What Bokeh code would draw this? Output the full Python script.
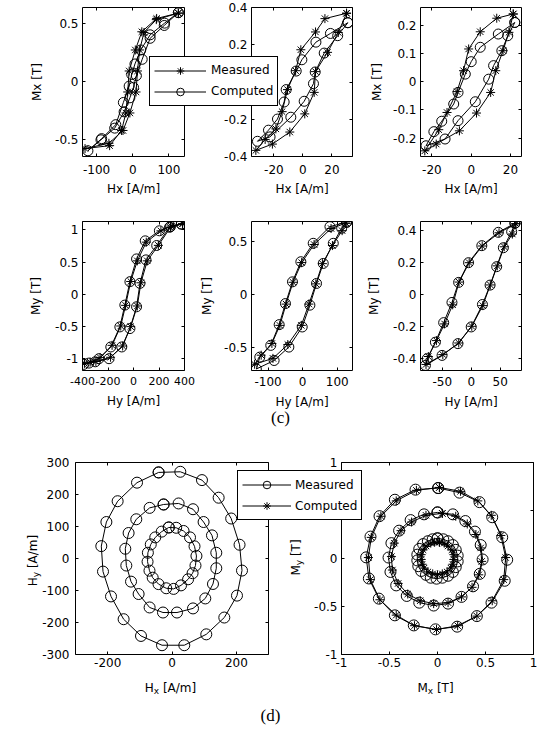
import math
import json
from bokeh.plotting import figure
from bokeh.models import (Range1d, FixedTicker, CustomJSTickFormatter, LinearAxis,
                          Legend, LegendItem, Label)
from bokeh.layouts import row, column
from bokeh.embed import file_html
from bokeh.resources import INLINE

# ---------------- data ----------------
# (c) top row: Mx [T] versus Hx [A/m]
p1_meas_h = [126, 66, 25, 7, -10, -14, -19, -31, -64, -132, -66, -27, -8, 9, 13, 19, 31, 65, 126]
p1_meas_m = [0.586, 0.54, 0.426, 0.27, 0.09, -0.09, -0.27, -0.42, -0.55, -0.575, -0.53, -0.42,
             -0.27, -0.09, 0.09, 0.27, 0.42, 0.53, 0.586]
p1_comp_h = [126, 88, 48, 22, 6, -3, -10, -26, -47, -86, -124, -88, -50, -24, -8, 2, 10, 26, 48, 87, 126]
p1_comp_m = [0.59, 0.50, 0.40, 0.27, 0.15, 0.06, -0.04, -0.18, -0.37, -0.49, -0.594, -0.50, -0.40,
             -0.26, -0.14, -0.05, 0.05, 0.19, 0.37, 0.48, 0.59]

p2_meas_h = [30.1, 15.2, 8.7, -1.4, -5.0, -10.6, -14.3, -18.6, -26.0, -32.4, -21.0, -9.0, 1.3, 7.8,
             8.7, 17.0, 24.4, 30.1]
p2_meas_m = [0.371, 0.342, 0.27, 0.174, 0.061, -0.041, -0.16, -0.253, -0.31, -0.369, -0.335, -0.27,
             -0.172, -0.056, 0.056, 0.16, 0.267, 0.371]
p2_comp_h = [31.0, 19.0, 9.0, -0.7, -4.6, -11.5, -12.9, -17.5, -23.7, -31.3, -22.6, -8.3, 0.9, 7.3,
             8.5, 14.7, 24.0, 31.0]
p2_comp_m = [0.32, 0.262, 0.215, 0.12, 0.059, -0.041, -0.108, -0.2, -0.26, -0.32, -0.296, -0.19,
             -0.104, -0.009, 0.054, 0.156, 0.25, 0.32]

p3_meas_h = [21.4, 13.0, 4.6, -1.3, -3.9, -7.2, -12.3, -16.5, -23.6, -17.8, -6.0, 2.7, 9.9, 12.5,
             16.2, 19.2, 21.4]
p3_meas_m = [0.24, 0.225, 0.177, 0.116, 0.039, -0.035, -0.109, -0.17, -0.245, -0.221, -0.174, -0.111,
             -0.038, 0.039, 0.11, 0.175, 0.24]
p3_comp_h = [22.2, 13.8, 4.6, 0.0, -3.0, -6.7, -8.9, -15.0, -19.0, -23.0, -13.3, -6.7, 2.1, 8.9,
             11.4, 15.6, 18.6, 22.2]
p3_comp_m = [0.21, 0.169, 0.122, 0.071, 0.027, -0.038, -0.079, -0.14, -0.177, -0.227, -0.203, -0.138,
             -0.071, 0.009, 0.057, 0.11, 0.163, 0.21]

# (c) bottom row: My [T] versus Hy [A/m]
p4_meas_h = [385, 295, 215, 100, 30, -22, -62, -100, -168, -262, -340, -385, -295, -180, -85, -22,
             30, 58, 108, 195, 290, 385]
p4_meas_m = [1.095, 1.06, 0.985, 0.81, 0.52, 0.2, -0.17, -0.49, -0.79, -0.98, -1.05, -1.07, -1.04,
             -0.975, -0.8, -0.5, -0.18, 0.18, 0.52, 0.76, 1.04, 1.095]
p4_comp_h = [375, 290, 203, 92, 24, -28, -68, -107, -178, -271, -350, -390, -300, -192, -92, -28,
             24, 51, 98, 182, 282, 375]
p4_comp_m = [1.09, 1.05, 0.986, 0.83, 0.55, 0.197, -0.166, -0.504, -0.815, -0.997, -1.065, -1.085,
             -1.045, -0.997, -0.815, -0.53, -0.192, 0.171, 0.535, 0.758, 1.04, 1.09]

p5_meas_h = [125, 82, 33, -3, -28, -48, -66, -89, -120, -139, -86, -43, -4, 18, 38, 57, 86, 114, 125]
p5_meas_m = [0.67, 0.62, 0.47, 0.30, 0.115, -0.09, -0.29, -0.46, -0.57, -0.655, -0.6, -0.47, -0.29,
             -0.09, 0.1, 0.29, 0.46, 0.6, 0.67]
p5_comp_h = [127, 78.8, 30.4, -5.3, -29.5, -49.8, -68, -92.3, -124, -134, -82.6, -40, -1.4, 20.8,
             40, 59.4, 88.4, 112.6, 127]
p5_comp_m = [0.679, 0.638, 0.481, 0.308, 0.119, -0.085, -0.283, -0.478, -0.588, -0.70, -0.62, -0.494,
             -0.305, -0.1, 0.104, 0.292, 0.481, 0.623, 0.679]

p6_meas_h = [77, 48, 19, -3.5, -21, -32, -46, -60, -74, -78, -49, -21.5, 1.0, 20, 33, 45, 57, 71, 77]
p6_meas_m = [0.445, 0.388, 0.305, 0.2, 0.078, -0.065, -0.185, -0.29, -0.39, -0.44, -0.378, -0.305,
             -0.2, -0.07, 0.06, 0.18, 0.3, 0.38, 0.445]
p6_comp_h = [75.5, 46.8, 18.3, -4.6, -21.7, -33.2, -47.5, -61.8, -76.0, -79.0, -50.3, -22.9, 0.0,
             19.4, 32.6, 44.0, 55.5, 69.8, 75.5]
p6_comp_m = [0.448, 0.391, 0.307, 0.2, 0.076, -0.05, -0.177, -0.3, -0.404, -0.446, -0.383, -0.309,
             -0.204, -0.063, 0.059, 0.175, 0.294, 0.395, 0.448]

# (d) left: Hy versus Hx (measured), three loci
p7_outer_hx = [-41.6, 25.8, 93.2, 145, 184, 210, 217.6, 202, 162.6, 106.6, 38.2, -31, -96.4, -150.4,
               -189.6, -214.5, -219.8, -204, -169, -108.8, -41.6]
p7_outer_hy = [269, 271, 245, 190, 125, 43, -37.7, -116, -184.5, -237, -271, -271, -242, -189.7,
               -118.5, -40.9, 38.7, 114, 179, 237, 269]
p7_mid_hx = [-26.1, 20.5, 65.3, 98.2, 124.3, 137.7, 137.7, 127.4, 103.5, 65.3, 15.5, -28, -69.6,
             -103.8, -127.4, -142, -145.2, -134.9, -111, -69.6, -26.1]
p7_mid_hy = [168.8, 172, 154, 114, 72.3, 17.9, -30.5, -79.6, -124.8, -156, -168.8, -168.8, -153,
             -111, -72.3, -22, 30.5, 79.6, 122.6, 158.2, 168.8]
p7_in_hx = [-10, 13, 36, 56, 70, 76, 73, 64, 50, 28, 5, -18, -42, -60, -70, -76, -75, -66, -52, -32, -10]
p7_in_hy = [97, 96, 86, 66, 38, 8, -22, -46, -65, -84, -95, -93, -80, -60, -38, -10, 18, 44, 66, 84, 97]

# (d) right: My versus Mx, measured (circles) and computed (stars)
p8_meas_outer_x = [0.007, 0.229, 0.4375, 0.57, 0.674, 0.726, 0.70, 0.5625, 0.41, 0.205, -0.021, -0.247,
                   -0.444, -0.611, -0.715, -0.743, -0.698, -0.604, -0.444, -0.229, 0.007]
p8_meas_outer_y = [0.734, 0.686, 0.587, 0.43, 0.221, -0.013, -0.232, -0.46, -0.60, -0.71, -0.738,
                   -0.697, -0.592, -0.418, -0.208, 0.012, 0.228, 0.441, 0.612, 0.717, 0.734]
p8_comp_outer_x = [0.02, 0.24, 0.42, 0.56, 0.66, 0.71, 0.69, 0.57, 0.41, 0.21, -0.01, -0.24, -0.43,
                   -0.60, -0.70, -0.72, -0.69, -0.59, -0.43, -0.22, 0.02]
p8_comp_outer_y = [0.74, 0.70, 0.60, 0.45, 0.24, 0.01, -0.22, -0.44, -0.60, -0.70, -0.74, -0.70, -0.59,
                   -0.43, -0.22, 0.01, 0.22, 0.44, 0.60, 0.71, 0.74]
p8_meas_mid_x = [0.00, 0.16, 0.29, 0.39, 0.45, 0.47, 0.44, 0.37, 0.25, 0.11, -0.04, -0.19, -0.32, -0.43,
                 -0.49, -0.51, -0.48, -0.40, -0.28, -0.14, 0.00]
p8_meas_mid_y = [0.48, 0.46, 0.39, 0.28, 0.14, -0.01, -0.16, -0.29, -0.40, -0.47, -0.49, -0.46, -0.39,
                 -0.28, -0.14, 0.01, 0.16, 0.29, 0.40, 0.46, 0.48]
p8_comp_mid_x = [0.05, 0.19, 0.31, 0.40, 0.45, 0.46, 0.43, 0.36, 0.25, 0.11, -0.04, -0.18, -0.31, -0.41,
                 -0.47, -0.48, -0.45, -0.38, -0.27, -0.12, 0.05]
p8_comp_mid_y = [0.47, 0.44, 0.36, 0.25, 0.11, -0.03, -0.17, -0.30, -0.40, -0.46, -0.47, -0.44, -0.37,
                 -0.26, -0.12, 0.02, 0.16, 0.29, 0.38, 0.45, 0.47]
p8_meas_in_x = [0.00, 0.06, 0.11, 0.16, 0.19, 0.21, 0.21, 0.19, 0.16, 0.11, 0.05, -0.01, -0.07, -0.12,
                -0.17, -0.20, -0.21, -0.21, -0.19, -0.15, -0.10, -0.05, 0.00]
p8_meas_in_y = [0.21, 0.20, 0.18, 0.14, 0.09, 0.03, -0.03, -0.09, -0.14, -0.18, -0.20, -0.21, -0.20,
                -0.17, -0.13, -0.08, -0.02, 0.04, 0.10, 0.15, 0.18, 0.20, 0.21]
p8_comp_in_x = [0.02, 0.07, 0.11, 0.15, 0.17, 0.17, 0.16, 0.14, 0.10, 0.05, 0.00, -0.05, -0.10, -0.14,
                -0.16, -0.17, -0.17, -0.15, -0.12, -0.07, -0.03, 0.02]
p8_comp_in_y = [0.17, 0.16, 0.13, 0.09, 0.04, -0.01, -0.06, -0.10, -0.14, -0.16, -0.17, -0.16, -0.14,
                -0.10, -0.06, -0.01, 0.04, 0.09, 0.13, 0.16, 0.17, 0.17]

# tick positions
p1_xt, p1_yt = [-100, 0, 100], [-0.5, 0, 0.5]
p2_xt, p2_yt = [-20, 0, 20], [-0.4, -0.2, 0, 0.2, 0.4]
p3_xt, p3_yt = [-20, 0, 20], [-0.2, -0.1, 0, 0.1, 0.2]
p4_xt, p4_yt = [-400, -200, 0, 200, 400], [-1, -0.5, 0, 0.5, 1]
p5_xt, p5_yt = [-100, 0, 100], [-0.5, 0, 0.5]
p6_xt, p6_yt = [-50, 0, 50], [-0.4, -0.2, 0, 0.2, 0.4]
p7_xt, p7_yt = [-200, 0, 200], [-300, -200, -100, 0, 100, 200, 300]
p8_xt, p8_yt = [-1, -0.5, 0, 0.5, 1], [-1, -0.5, 0, 0.5, 1]

# ---------------- styling helpers ----------------
FONT = "DejaVu Sans"
BLACK = "black"


def tick_fmt(hidden=()):
    code = ("const hide = %s;"
            "return hide.some(v => Math.abs(v - tick) < 1e-9) ? '' : tick.toString();") % json.dumps(list(hidden))
    return CustomJSTickFormatter(code=code)


def style_axis(ax, ticks, standoff, fs="12px", label=None, label_standoff=5, hidden=()):
    ax.ticker = FixedTicker(ticks=ticks)
    ax.formatter = tick_fmt(hidden)
    ax.major_tick_in = 3
    ax.major_tick_out = 0
    ax.major_tick_line_color = BLACK
    ax.minor_tick_line_color = None
    ax.axis_line_color = None
    ax.major_label_text_font = FONT
    ax.major_label_text_font_size = fs
    ax.major_label_text_color = BLACK
    ax.major_label_standoff = standoff
    if label is not None:
        ax.axis_label = label
        ax.axis_label_text_font = FONT
        ax.axis_label_text_font_size = "12px"
        ax.axis_label_text_font_style = "normal"
        ax.axis_label_text_color = BLACK
        ax.axis_label_standoff = label_standoff


def panel(width, height, xr, yr, xt, yt, borders, xlab=None, ylab=None,
          xs=6, ys=4, xls=5, yls=8, xfs="12px", hide_y=()):
    l, r, t, b = borders
    p = figure(width=width, height=height, x_range=Range1d(*xr), y_range=Range1d(*yr),
               output_backend="svg", toolbar_location=None,
               min_border_left=l, min_border_right=r, min_border_top=t, min_border_bottom=b)
    p.border_fill_color = None
    p.background_fill_color = "white"
    p.outline_line_color = BLACK
    p.outline_line_width = 1
    p.outline_line_alpha = 1
    p.grid.visible = False
    style_axis(p.xaxis[0], xt, xs, xfs, xlab, xls)
    style_axis(p.yaxis[0], yt, ys, "12px", ylab, yls, hide_y)
    for loc, ticks in (("above", xt), ("right", yt)):
        ax = LinearAxis(ticker=FixedTicker(ticks=ticks))
        ax.major_tick_in = 3
        ax.major_tick_out = 0
        ax.major_tick_line_color = BLACK
        ax.minor_tick_line_color = None
        ax.axis_line_color = None
        ax.major_label_text_font_size = "0px"
        ax.major_label_standoff = 0
        ax.major_label_text_color = None
        p.add_layout(ax, loc)
    return p


def draw(p, x, y, marker, size):
    ln = p.line(x, y, line_color=BLACK, line_width=1)
    sc = p.scatter(x, y, marker=marker, size=size, line_color=BLACK, fill_color=None, line_width=1)
    return [ln, sc]


def add_legend(p, entries, loc, gw, so):
    items = [LegendItem(label=t, renderers=r) for t, r in entries]
    lg = Legend(items=items, location=loc, orientation="vertical", padding=4, spacing=2, margin=0,
                glyph_width=gw, glyph_height=19, label_height=19, label_standoff=so,
                label_text_font=FONT, label_text_font_size="12px", label_text_color=BLACK,
                border_line_color=BLACK, border_line_width=1, border_line_alpha=1,
                background_fill_color="white", background_fill_alpha=1)
    p.add_layout(lg)


def text(p, x, y, s, size="12px", font=FONT, angle=0.0, align="left", baseline="alphabetic"):
    p.add_layout(Label(x=x, y=y, x_units="screen", y_units="screen", text=s, text_font=font,
                       text_font_size=size, text_color=BLACK, angle=angle,
                       text_align=align, text_baseline=baseline))


CW = {"H": 0.752, "M": 0.863, "x": 0.592, "y": 0.592, "[A/m]": 2.775, "[T]": 1.391}


def sub_label(p, cx, cy, main, sub, rest, vertical=False):
    fs, ss = 12, 9
    wm, wsb, wsp, wr = CW[main] * fs, CW[sub] * ss, 0.318 * fs, CW[rest] * fs
    start = -(wm + wsb + wsp + wr) / 2
    offs = [start, start + wm, start + wm + wsb + wsp]
    if not vertical:
        base = cy - 4
        text(p, cx + offs[0], base, main)
        text(p, cx + offs[1], base - 3, sub, size="9px")
        text(p, cx + offs[2], base, rest)
    else:
        base = cx + 4
        a = math.pi / 2
        text(p, base, cy + offs[0], main, angle=a)
        text(p, base + 3, cy + offs[1], sub, size="9px", angle=a)
        text(p, base, cy + offs[2], rest, angle=a)


# ---------------- row 1 ----------------
H1 = 205
p1 = panel(200, H1, (-139, 143), (-0.643, 0.634), p1_xt, p1_yt, (82, 16, 7, 49),
           xlab="Hx [A/m]", ylab="Mx [T]", xs=8, xls=5, yls=8)
draw(p1, p1_meas_h, p1_meas_m, "asterisk", 9)
draw(p1, p1_comp_h, p1_comp_m, "circle", 10)

p2 = panel(162, H1, (-35.4, 34.2), (-0.402, 0.402), p2_xt, p2_yt, (51, 10, 7, 49),
           xlab="Hx [A/m]", xs=8, xls=5, hide_y=(0,))
draw(p2, p2_meas_h, p2_meas_m, "asterisk", 9)
draw(p2, p2_comp_h, p2_comp_m, "circle", 10)

p3 = panel(178, H1, (-25.8, 25.6), (-0.265, 0.263), p3_xt, p3_yt, (58, 19, 7, 49),
           xlab="Hx [A/m]", ylab="Mx [T]", xs=8, xls=5, yls=6)
draw(p3, p3_meas_h, p3_meas_m, "asterisk", 9)
draw(p3, p3_comp_h, p3_comp_m, "circle", 10)

# ---------------- row 2 ----------------
H2 = 227
p4 = panel(196, H2, (-400, 400), (-1.18, 1.13), p4_xt, p4_yt, (82, 12, 16, 62),
           xlab="Hy [A/m]", ylab="My [T]", xs=6, xls=6, yls=9, xfs="11px")
draw(p4, p4_meas_h, p4_meas_m, "asterisk", 9)
draw(p4, p4_comp_h, p4_comp_m, "circle", 10)

p5 = panel(166, H2, (-148, 144), (-0.714, 0.686), p5_xt, p5_yt, (55, 10, 16, 62),
           xlab="Hy [A/m]", ylab="My [T]", xs=6, xls=6, yls=7)
draw(p5, p5_meas_h, p5_meas_m, "asterisk", 9)
draw(p5, p5_comp_h, p5_comp_m, "circle", 10)

p6 = panel(178, H2, (-87.5, 86.8), (-0.478, 0.459), p6_xt, p6_yt, (58, 19, 16, 62),
           xlab="Hy [A/m]", ylab="My [T]", xs=6, xls=6, yls=9)
draw(p6, p6_meas_h, p6_meas_m, "asterisk", 9)
draw(p6, p6_comp_h, p6_comp_m, "circle", 10)

# ---------------- row 3 ----------------
H3 = 288
p7 = panel(290, H3, (-300, 300), (-300, 300), p7_xt, p7_yt, (75, 22, 30, 66), xs=3, ys=6)
draw(p7, p7_outer_hx, p7_outer_hy, "circle", 11)
draw(p7, p7_mid_hx, p7_mid_hy, "circle", 11)
draw(p7, p7_in_hx, p7_in_hy, "circle", 11)

p8 = panel(250, H3, (-1, 1), (-1, 1), p8_xt, p8_yt, (51, 7, 30, 66), xs=3, ys=4, hide_y=(0.5,))
draw(p8, p8_meas_outer_x, p8_meas_outer_y, "circle", 11)
draw(p8, p8_meas_mid_x, p8_meas_mid_y, "circle", 11)
draw(p8, p8_meas_in_x, p8_meas_in_y, "circle", 11)
draw(p8, p8_comp_outer_x, p8_comp_outer_y, "asterisk", 9)
draw(p8, p8_comp_mid_x, p8_comp_mid_y, "asterisk", 9)
draw(p8, p8_comp_in_x, p8_comp_in_y, "asterisk", 9)

# ---------------- overlay: legends, panel letters, subscripted labels ----------------
ROWS_H = H1 + H2 + H3
HOV = 728
ov = figure(width=540, height=HOV, x_range=Range1d(1000, 1001), y_range=Range1d(1000, 1001),
            output_backend="svg", toolbar_location=None, min_border=0,
            x_axis_location=None, y_axis_location=None, margin=(-ROWS_H, 0, 0, 0))
ov.border_fill_color = None
ov.background_fill_color = None
ov.outline_line_color = None
for g in ov.grid:
    g.visible = False

# legend samples reuse the series (their points lie outside this layer's range, so only the legend shows)
lg1_meas = draw(ov, p2_meas_h, p2_meas_m, "asterisk", 9)
lg1_comp = draw(ov, p2_comp_h, p2_comp_m, "circle", 10)
lg3_meas = draw(ov, p8_meas_outer_x, p8_meas_outer_y, "circle", 11)
lg3_comp = draw(ov, p8_comp_outer_x, p8_comp_outer_y, "asterisk", 9)
add_legend(ov, [("Measured", lg1_meas), ("Computed", lg1_comp)], (149, HOV - 105.5), 52, 5)
add_legend(ov, [("Measured", lg3_meas), ("Computed", lg3_comp)], (237, HOV - 520), 49, 4)

text(ov, 280, HOV - 417, "(c)", size="17px", font="Liberation Serif", align="center", baseline="middle")
text(ov, 270, HOV - 715, "(d)", size="17px", font="Liberation Serif", align="center", baseline="middle")
sub_label(ov, 170, HOV - 683, "H", "x", "[A/m]")
sub_label(ov, 28.3, HOV - 560, "H", "y", "[A/m]", vertical=True)
sub_label(ov, 435, HOV - 683, "M", "x", "[T]")
sub_label(ov, 291.7, HOV - 557, "M", "y", "[T]", vertical=True)

layout = column(row(p1, p2, p3), row(p4, p5, p6), row(p7, p8), ov)

open("out.html", "w").write(file_html(layout, INLINE))
